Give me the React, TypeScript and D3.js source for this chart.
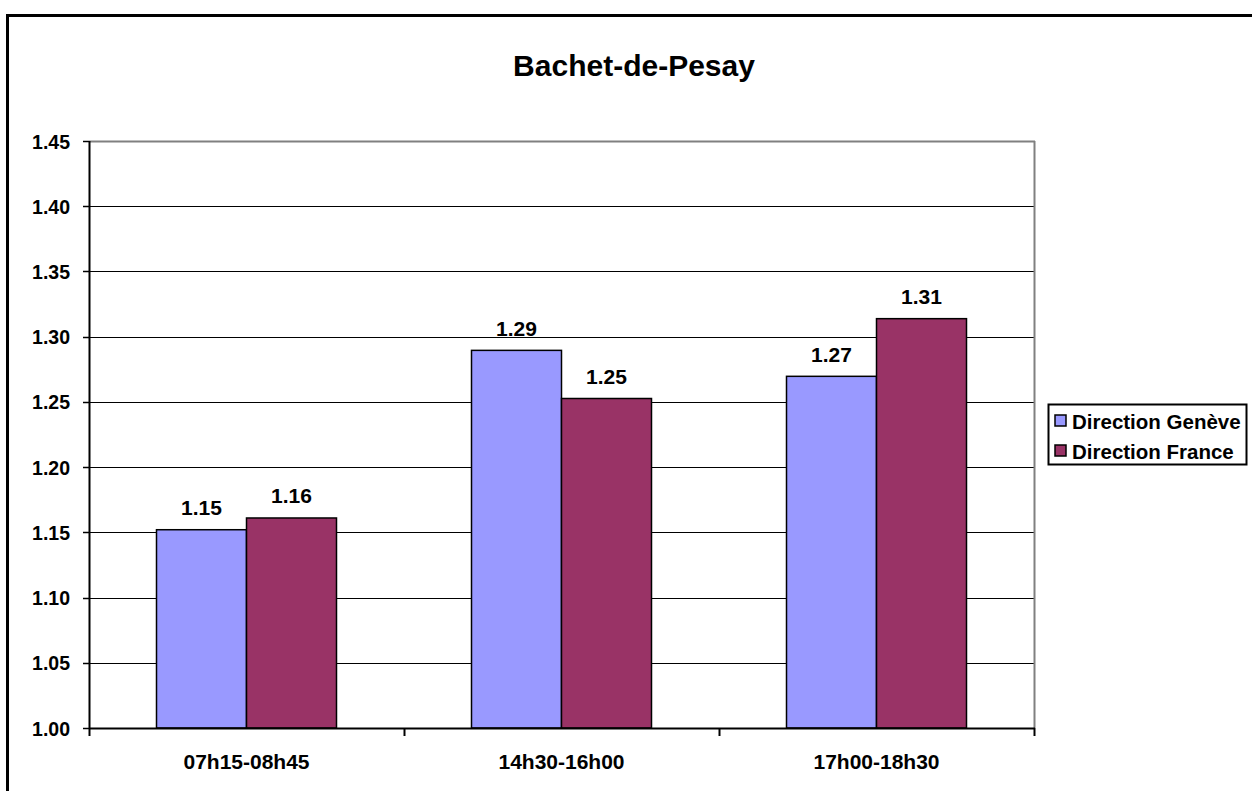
import React from "react";
import * as d3 from "d3";

const categories = ["07h15-08h45", "14h30-16h00", "17h00-18h30"];
const seriesNames = ["Direction Genève", "Direction France"];
const geneveValues = [1.152, 1.2895, 1.2696];
const franceValues = [1.161, 1.2526, 1.3138];
const yTicks = [1.0, 1.05, 1.1, 1.15, 1.2, 1.25, 1.3, 1.35, 1.4, 1.45];
const colors = ["#9999FF", "#993366"];
const title = "Bachet-de-Pesay";

const W = 1252;
const H = 791;
const plot = { left: 89, right: 1034, top: 141, bottom: 728 };
const FONT = "'Liberation Sans', Arial, sans-serif";

export default function App() {
  const x = d3.scaleBand<string>().domain(categories).range([plot.left, plot.right]).paddingInner(0).paddingOuter(0);
  const y = d3.scaleLinear().domain([1.0, 1.45]).range([plot.bottom, plot.top]);
  const groupW = x.bandwidth() * (180 / 315);
  const xs = d3.scaleBand<string>().domain(seriesNames).range([0, groupW]);
  const series = [geneveValues, franceValues];
  const boundaries = d3.range(categories.length + 1).map((i) => plot.left + i * x.step());

  return (
    <svg width={W} height={H} style={{ position: "absolute", left: 0, top: 0, background: "#fff" }} fontFamily={FONT}>
      <rect x={0} y={0} width={W} height={H} fill="#fff" />
      <rect x={7.5} y={15.5} width={1400} height={900} fill="none" stroke="#000" strokeWidth={3} />
      <text x={634} y={76} textAnchor="middle" fontSize={30} fontWeight="bold">{title}</text>

      {/* gridlines */}
      {yTicks.slice(1, -1).map((t) => (
        <line key={"g" + t} x1={plot.left} x2={plot.right} y1={Math.round(y(t)) + 0.5} y2={Math.round(y(t)) + 0.5} stroke="#000" strokeWidth={1} />
      ))}
      {/* plot border top/right gray */}
      <line x1={plot.left} x2={plot.right + 1} y1={plot.top + 0.5} y2={plot.top + 0.5} stroke="#808080" strokeWidth={2} />
      <line x1={plot.right + 0.5} x2={plot.right + 0.5} y1={plot.top} y2={plot.bottom} stroke="#808080" strokeWidth={2} />

      {/* bars */}
      {categories.map((c, i) => {
        const gx = (x(c) as number) + (x.bandwidth() - groupW) / 2;
        return series.map((vals, s) => {
          const bx = gx + (xs(seriesNames[s]) as number);
          const by = y(vals[i]);
          return (
            <g key={c + s}>
              <rect x={bx} y={by} width={xs.bandwidth()} height={plot.bottom - by} fill={colors[s]} stroke="#000" strokeWidth={1.5} />
              <text x={bx + xs.bandwidth() / 2} y={by - 14.5} textAnchor="middle" fontSize={21} fontWeight="bold">{vals[i].toFixed(2)}</text>
            </g>
          );
        });
      })}

      {/* axes */}
      <line x1={plot.left + 0.5} x2={plot.left + 0.5} y1={plot.top} y2={plot.bottom + 1} stroke="#000" strokeWidth={2} />
      <line x1={plot.left} x2={plot.right + 1} y1={plot.bottom + 0.5} y2={plot.bottom + 0.5} stroke="#000" strokeWidth={2} />
      {yTicks.map((t) => (
        <g key={"t" + t}>
          <line x1={plot.left - 6} x2={plot.left} y1={Math.round(y(t)) + 0.5} y2={Math.round(y(t)) + 0.5} stroke="#000" strokeWidth={1.5} />
          <text x={70} y={y(t) + 7.5} textAnchor="end" fontSize={19.5} fontWeight="bold">{t.toFixed(2)}</text>
        </g>
      ))}
      {boundaries.map((bx, i) => (
        <line key={"b" + i} x1={bx + 0.5} x2={bx + 0.5} y1={plot.bottom} y2={plot.bottom + 8} stroke="#000" strokeWidth={2} />
      ))}
      {categories.map((c) => (
        <text key={"c" + c} x={(x(c) as number) + x.bandwidth() / 2} y={769} textAnchor="middle" fontSize={21} fontWeight="bold">{c}</text>
      ))}

      {/* legend */}
      <rect x={1048.5} y={404.5} width={198} height={60} fill="#fff" stroke="#000" strokeWidth={2} />
      {seriesNames.map((n, s) => (
        <g key={"l" + n}>
          <rect x={1055} y={415 + s * 30} width={11} height={11} fill={colors[s]} stroke="#000" strokeWidth={1.5} />
          <text x={1072} y={429 + s * 30} fontSize={20.5} fontWeight="bold">{n}</text>
        </g>
      ))}
    </svg>
  );
}
